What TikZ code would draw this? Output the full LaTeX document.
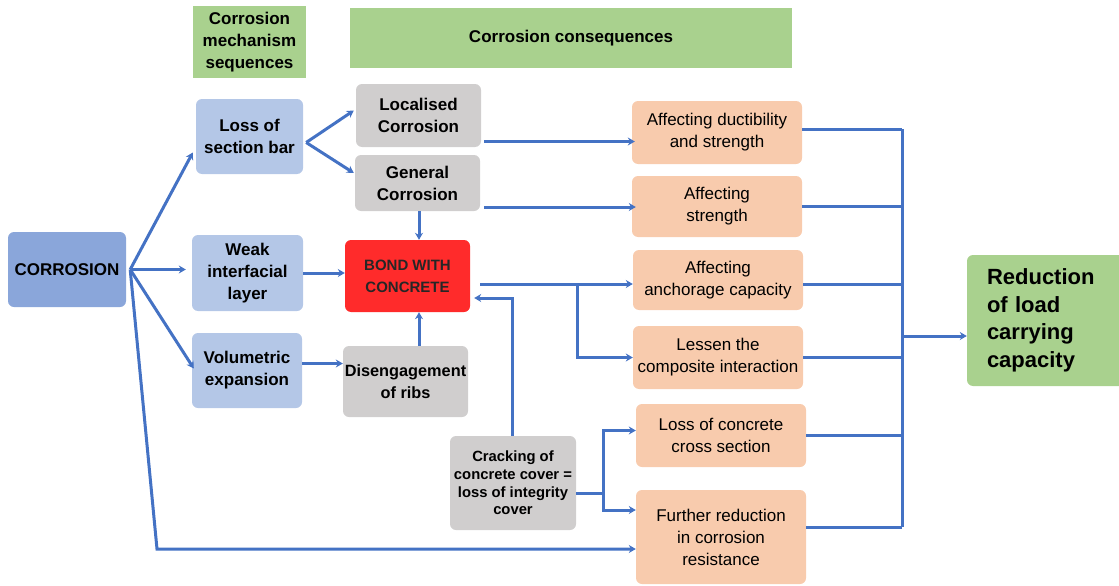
\documentclass[tikz,border=0pt]{standalone}
\usepackage{fontspec}
\setmainfont{Liberation Sans}
\usetikzlibrary{positioning}
\usetikzlibrary{arrows.meta}
\usetikzlibrary{calc}
\definecolor{headGreen}{HTML}{A9D18E}
\definecolor{corrBlue}{HTML}{8AA6DA}
\definecolor{mechBlue}{HTML}{B4C7E7}
\definecolor{boxGray}{HTML}{D0CECE}
\definecolor{bondRed}{HTML}{FF2B2B}
\definecolor{effectOrange}{HTML}{F8CBAD}
\definecolor{lineBlue}{HTML}{4472C4}
\tikzset{
   boxBase/.style={rounded corners=6pt, align=center, inner sep=1pt, font=\fontsize{17}{22}\selectfont\bfseries},
   headerBox/.style={boxBase, fill=headGreen, rounded corners=0pt},
   mechBox/.style={boxBase, fill=mechBlue},
   grayBox/.style={boxBase, fill=boxGray},
   effectBox/.style={boxBase, fill=effectOrange, font=\fontsize{17}{22}\selectfont},
   flowLine/.style={draw=lineBlue, line width=3pt},
   flowArrow/.style={flowLine, -{Stealth[length=7pt,width=8pt]}},
}

\begin{document}
\begin{tikzpicture}[x=1pt,y=-1pt]
  \useasboundingbox (0,0) rectangle (1119,586);
  %
  % headers
  \node[headerBox, minimum width=113pt, minimum height=72pt] (mechHead) at (249.5,42) {Corrosion\\mechanism\\sequences};
  \node[headerBox, minimum width=442pt, minimum height=60pt] (consHead) at (571,38) {Corrosion consequences};
  %
  % mechanism column
  \node[mechBox, fill=corrBlue, minimum width=118pt, minimum height=75pt] (corrosion) at (67,269.5) {CORROSION};
  \node[mechBox, minimum width=107pt, minimum height=75pt] (lossBar) at (249.5,136.5) {Loss of\\section bar};
  \node[mechBox, minimum width=111pt, minimum height=76pt] (weakLayer) at (247.5,273) {Weak\\interfacial\\layer};
  \node[mechBox, minimum width=110pt, minimum height=75pt] (volExp) at (247,370.5) {Volumetric\\expansion};
  %
  % intermediate boxes
  \node[grayBox, minimum width=125pt, minimum height=63pt] (localised) at (418.5,115.5) {Localised\\Corrosion};
  \node[grayBox, minimum width=125pt, minimum height=56pt] (general) at (417.5,183) {General\\Corrosion};
  \node[boxBase, fill=bondRed, text=black!85, font=\fontsize{15}{22}\selectfont\bfseries, minimum width=125pt, minimum height=72pt] (bond) at (407.5,276) {BOND WITH\\CONCRETE};
  \node[grayBox, font=\fontsize{16.3}{22}\selectfont\bfseries, minimum width=125pt, minimum height=71pt] (ribs) at (405.5,381.5) {Disengagement\\of ribs};
  \node[grayBox, font=\fontsize{14.8}{17.7}\selectfont\bfseries, minimum width=126pt, minimum height=94pt] (cracking) at (513,483) {Cracking of\\concrete cover =\\loss of integrity\\cover};
  %
  % consequences
  \node[effectBox, minimum width=170pt, minimum height=63pt] (ductility) at (717,132.5) {Affecting ductibility\\and strength};
  \node[effectBox, minimum width=170pt, minimum height=61pt] (strength) at (717,206.5) {Affecting\\strength};
  \node[effectBox, minimum width=170pt, minimum height=60pt] (anchorage) at (718,280) {Affecting\\anchorage capacity};
  \node[effectBox, minimum width=170pt, minimum height=63pt] (lessen) at (718,357.5) {Lessen the\\composite interaction};
  \node[effectBox, minimum width=170pt, minimum height=63pt] (concreteLoss) at (721,435.5) {Loss of concrete\\cross section};
  \node[effectBox, minimum width=170pt, minimum height=94pt] (furtherRed) at (721,537) {Further reduction\\in corrosion\\resistance};
  %
  \node[boxBase, fill=headGreen, align=left, text width=118pt, font=\fontsize{22}{27.5}\selectfont\bfseries, minimum width=158pt, minimum height=131pt] (reduction) at (1046,320.5) {Reduction\\of load\\carrying\\capacity};
  %
  % connectors from corrosion
  \coordinate (hub) at ([xshift=4pt]corrosion.east);
  \coordinate (bendLow) at (157,549);
  \draw[flowArrow] (hub) -- ([shift={(-3pt,-16pt)}]lossBar.west);
  \draw[flowArrow] (hub) -- ([xshift=-6pt]weakLayer.west |- hub);
  \draw[flowArrow] (hub) -- ([shift={(2pt,2pt)}]volExp.west);
  \draw[flowArrow] (hub) -- (bendLow) -- (bendLow -| furtherRed.west);
  %
  \coordinate (lossFork) at ([shift={(3pt,-6pt)}]lossBar.east);
  \draw[flowArrow] (lossFork) -- ([shift={(-2pt,5pt)}]localised.west);
  \draw[flowArrow] (lossFork) -- ([shift={(-1pt,10pt)}]general.west);
  \draw[flowArrow] (weakLayer.east) -- (weakLayer.east -| bond.west);
  \draw[flowArrow] ([yshift=7pt]volExp.east) -- ([yshift=7pt]volExp.east -| ribs.west);
  \draw[flowArrow] ([xshift=1.5pt]general.south) -- ([xshift=1.5pt]general.south |- bond.north);
  \draw[flowArrow] ([xshift=1.5pt]general.south |- ribs.north) -- ([xshift=1.5pt]general.south |- bond.south);
  \draw[flowArrow] ([xshift=-1pt]cracking.north) |- ([shift={(4pt,-22pt)}]bond.east);
  %
  % to the consequences
  \draw[flowArrow] ([shift={(3pt,-26pt)}]localised.east) -- ([shift={(3pt,-26pt)}]localised.east -| ductility.west);
  \draw[flowArrow] ([shift={(4pt,-24pt)}]general.east) -- ([shift={(4pt,-24pt)}]general.east -| strength.west);
  \coordinate (bondOut) at ([shift={(10pt,-8pt)}]bond.east);
  \coordinate (bondFork) at (577,284);
  \draw[flowArrow] (bondOut) -- (bondOut -| anchorage.west);
  \draw[flowArrow] (bondFork) |- (lessen.west);
  \coordinate (crackFork) at (603,493);
  \draw[flowLine] ([yshift=-10pt]cracking.east) -- (crackFork);
  \draw[flowArrow] (crackFork) |- ([yshift=5pt]concreteLoss.west);
  \draw[flowArrow] (crackFork) |- ([yshift=27pt]furtherRed.west);
  %
  % collecting bus
  \coordinate (busTop) at (902,129);
  \coordinate (busBot) at (902,527);
  \coordinate (busMid) at (902,336);
  \draw[flowLine] (busTop) -- (busBot);
  \draw[flowLine] ([yshift=3pt]ductility.east) -- ([yshift=3pt]ductility.east -| busTop);
  \draw[flowLine] (strength.east) -- (strength.east -| busTop);
  \draw[flowLine] ([yshift=-4pt]anchorage.east) -- ([yshift=-4pt]anchorage.east -| busTop);
  \draw[flowLine] (lessen.east) -- (lessen.east -| busTop);
  \draw[flowLine] (concreteLoss.east) -- (concreteLoss.east -| busTop);
  \draw[flowLine] ([yshift=10pt]furtherRed.east) -- ([yshift=10pt]furtherRed.east -| busTop);
  \draw[flowArrow] (busMid) -- (busMid -| reduction.west);
\end{tikzpicture}
\end{document}
